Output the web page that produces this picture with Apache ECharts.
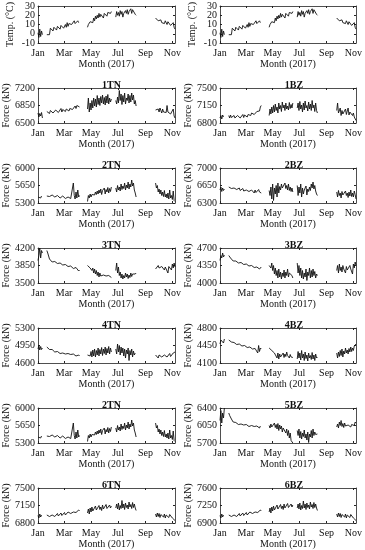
<!DOCTYPE html>
<html><head><meta charset="utf-8">
<script src="https://cdn.jsdelivr.net/npm/echarts@6/dist/echarts.min.js"></script>
<style>html,body{margin:0;padding:0;background:#fff}#c{width:365px;height:550px}</style>
</head><body><div id="c"></div><script>
const monthLabels = ['Jan','Mar','May','Jul','Sep','Nov'];
const monthDays = [0,59,120,181,243,304];
const segStarts = [0,20,112,176,266];
const xMax = 310;

const temp = [
 [1,-4,5,-3,3,-1],
 [-1,-2,0,-1,6,4,8,3,7,5, 9,4,8,6,10,5,9,7,11,6, 8,10,7,12,8,11,9,13,10,12, 8,14,11,12,10,14,12,13],
 [7,10,8,13,11,15,12,17,14,19, 16,20,17,22,18,21,19,23,17,22, 20,24,19,23,21,25,22,24],
 [18,24,20,23,19,25,21,24,18,22, 20,25,22,26,21,24,23,27,22,26, 24,28,21,20],
 [17,15,18,14,16,13,15,12,14,13, 11,14,12,10,13,11,12,9,11,10, 12,7,5]
];
const f1TN = [
 [6700,6620,6690,6640,6710,6600],
 [6730,6700,6760,6690,6750,6710,6770,6700,6740,6690, 6760,6720,6780,6710,6750,6730,6790,6720,6770,6740, 6800,6730,6780,6750,6810,6740,6790,6760,6820,6770, 6800,6780,6840,6790,6850,6810,6870,6820],
 [6780,7000,6720,6900,6760,6950,6800,7000,6840,6980, 6820,7050,6870,7000,6850,7030,6900,7060,6880,7010, 6860,7040,6900,7070,6880,7000,6920,6980],
 [6950,6880,7020,6900,7150,6950,7080,6870,7050,6920, 7100,6880,7000,6950,7080,6900,7050,6920,7100,6960, 7060,6880,6950,6840],
 [6760,6800,6740,6780,6720,6800,6750,6700,6780,6720, 6690,6760,6710,6850,6720,6700,6760,6680,6720,6700, 6780,6640,6600]
];
const f1BZ = [
 [6900,6950,6880,6960,6920,6940],
 [6950,6900,6960,6910,6940,6890,6950,6900,6930,6880, 6950,6910,6960,6900,6940,6920,6970,6910,6960,6930, 6980,6920,6970,6940,6990,6950,7000,6960,7010,6970, 7000,6990,7030,7000,7060,7040,7120,7150],
 [6950,7080,6980,7120,7000,7150,7020,7180,7050,7120, 7000,7200,7080,7150,7030,7220,7100,7160,7050,7200, 7080,7140,7060,7210,7090,7170,7100,7200],
 [7100,7200,7050,7230,7080,7160,7020,7200,7060,7240, 7100,7150,7040,7220,7080,7180,7050,7250,7100,7160, 7030,7200,7050,7000],
 [7050,7200,7000,6980,7100,6950,7050,6980,7020,6960, 7080,6970,7040,7100,6960,7020,6980,7060,6950,7000, 6920,6880,6850]
];
const f2TN = [
 [5420,5380,5460,5400,5440,5390],
 [5440,5420,5460,5430,5450,5420,5460,5430,5450,5420, 5440,5410,5450,5420,5440,5400,5430,5410,5440,5400, 5420,5390,5430,5400,5420,5380,5410,5390,5420,5380, 5700,5450,5380,5520,5400,5560,5420,5450],
 [5330,5450,5400,5480,5420,5470,5440,5500,5460,5520, 5470,5540,5480,5560,5500,5580,5470,5550,5510,5600, 5480,5570,5520,5610,5500,5590,5530,5620],
 [5600,5520,5650,5560,5620,5540,5680,5570,5640,5590, 5700,5560,5660,5600,5720,5580,5680,5620,5760,5640, 5700,5560,5500,5420],
 [5700,5600,5650,5520,5580,5480,5560,5450,5520,5430, 5550,5420,5480,5400,5500,5380,5560,5400,5450,5370, 5540,5350,5330]
];
const f2BZ = [
 [6560,6620,6530,6600,6550,6580],
 [6620,6580,6640,6590,6610,6570,6600,6580,6620,6570, 6590,6560,6600,6550,6580,6560,6590,6540,6570,6550, 6560,6520,6570,6530,6550,6510,6560,6520,6540,6500, 6560,6510,6550,6490,6570,6520,6540,6500],
 [6550,6450,6620,6380,6680,6350,6600,6480,6650,6420, 6700,6500,6630,6560,6680,6600,6640,6570,6700,6590, 6650,6560,6680,6550,6620,6530,6600,6520],
 [6650,6450,6620,6500,6680,6420,6600,6480,6560,6520, 6640,6460,6580,6530,6620,6550,6680,6600,6720,6580, 6650,6540,6480,6450],
 [6520,6420,6550,6450,6500,6400,6530,6460,6480,6420, 6540,6450,6500,6410,6520,6440,6560,6430,6500,6420, 6540,6470,6380]
];
const f3TN = [
 [3950,4050,4200,4000,4150,4100],
 [4150,4100,4080,3980,3950,3940,3920,3950,3910,3930, 3900,3920,3890,3910,3880,3900,3870,3890,3860,3880, 3850,3870,3840,3860,3830,3850,3820,3840,3800,3830, 3790,3820,3770,3810,3780,3800,3740,3760],
 [3850,3820,3860,3800,3840,3750,3800,3700,3780,3680, 3750,3650,3720,3620,3700,3640,3680,3600,3660,3620, 3700,3640,3680,3600,3650,3620,3640,3610],
 [3750,3900,3700,3820,3650,3720,3600,3680,3580,3650, 3600,3700,3620,3680,3590,3660,3610,3700,3630,3680, 3640,3720,3680,3700],
 [3780,3820,3760,3850,3800,3840,3770,3830,3790,3850, 3760,3820,3780,3860,3700,3830,3790,3840,3760,3880, 3800,3900,3820]
];
const f3BZ = [
 [4450,4550,4500,4600,4520,4560],
 [4550,4520,4500,4480,4460,4440,4450,4420,4440,4410, 4430,4400,4420,4390,4410,4380,4400,4370,4390,4360, 4380,4350,4370,4340,4360,4330,4350,4320,4340,4310, 4330,4300,4320,4290,4310,4280,4300,4320],
 [4350,4380,4300,4400,4250,4350,4180,4300,4150,4250, 4100,4280,4120,4220,4080,4200,4130,4260,4100,4220, 4150,4280,4120,4200,4160,4240,4150,4100],
 [4400,4200,4350,4150,4300,4100,4250,4080,4200,4120, 4280,4050,4220,4150,4300,4100,4250,4120,4280,4150, 4230,4100,4180,4150],
 [4250,4350,4200,4380,4250,4320,4220,4350,4280,4300, 4200,4330,4260,4300,4220,4350,4280,4320,4180,4380, 4300,4420,4350]
];
const f4TN = [
 [4880,4950,4860,4930,4870,4900],
 [4920,4880,4900,4870,4890,4850,4870,4840,4860,4820, 4840,4810,4830,4800,4820,4790,4810,4780,4800,4790, 4810,4780,4800,4770,4790,4760,4780,4770,4790,4750, 4780,4760,4790,4740,4770,4750,4760,4740],
 [4760,4720,4800,4740,4830,4720,4860,4740,4880,4720, 4850,4760,4900,4740,4870,4780,4910,4750,4880,4790, 4920,4760,4890,4800,4930,4780,4900,4820],
 [4880,4780,4980,4820,4950,4760,4920,4800,4900,4740, 4880,4700,4860,4780,4900,4650,4850,4760,4880,4720, 4840,4760,4800,4780],
 [4760,4720,4780,4700,4760,4730,4770,4720,4750,4710, 4760,4730,4780,4720,4760,4740,4790,4730,4770,4750, 4800,4780,4820]
];
const f4BZ = [
 [4480,4560,4520,4600,4500,4580],
 [4560,4540,4550,4520,4530,4500,4510,4480,4500,4470, 4490,4460,4480,4450,4470,4440,4460,4430,4450,4420, 4440,4410,4430,4400,4420,4390,4410,4380,4400,4370, 4390,4360,4420,4300,4450,4330,4400,4380],
 [4400,4370,4410,4350,4390,4360,4300,4280,4320,4200, 4300,4180,4280,4220,4260,4190,4300,4210,4280,4230, 4320,4250,4290,4200,4270,4220,4250,4210],
 [4180,4330,4200,4300,4160,4350,4200,4280,4150,4320, 4190,4260,4140,4300,4200,4250,4170,4310,4180,4260, 4150,4280,4200,4220],
 [4300,4200,4320,4230,4350,4250,4380,4220,4340,4280, 4400,4300,4360,4280,4390,4320,4420,4330,4400,4350, 4440,4420,4480]
];
const f5BZ = [
 [6150,6350,6100,6300,6200,6400],
 [6300,6250,6220,6180,6150,6120,6130,6100,6110,6080, 6100,6070,6090,6060,6080,6050,6070,6060,6080,6040, 6070,6050,6060,6030,6070,6040,6050,6020,6060,6030, 6050,6010,6040,6020,6030,6000,6040,6010],
 [6050,6000,6080,6020,6060,5990,6100,6010,6070,5980, 6090,5950,6060,5980,6040,5920,6000,5960,6030,5900, 5980,5850,5950,5800,5900,5750,5780,5700],
 [5950,5850,5980,5800,5930,5780,5900,5830,5960,5800, 5880,5760,5920,5710,5880,5820,5950,5800,5980,5850, 5920,5870,5900,5880],
 [6020,6080,6000,6120,6050,6150,6030,6090,6010,6100, 6040,6080,6000,6060,6030,6090,6020,6070,6040,6080, 6050,6120,6100]
];
const f6TN = [
 [6950,6900,6980,6920,6960,6940],
 [6960,6920,6980,6930,6970,6910,6960,6940,6990,6930, 6970,6950,6990,6940,6980,6960,7000,6950,6990,6970, 7010,6960,7000,6970,7020,6980,7010,6990,7030,6990, 7020,7000,7040,7010,7050,7020,7060,7040],
 [7000,7080,6980,7100,7020,7120,7040,7080,7030,7140, 7060,7100,7040,7150,7070,7120,7050,7160,7080,7110, 7060,7170,7090,7130,7070,7160,7100,7140],
 [7100,7180,7080,7200,7060,7150,7090,7250,7100,7180, 7070,7200,7110,7160,7080,7220,7120,7170,7090,7210, 7110,7180,7100,7050],
 [6980,6920,7000,6930,6990,6910,6970,6940,7010,6920, 6980,6900,6960,6930,6990,6910,6970,6940,6950,6900, 6930,6880,6850]
];
const f6BZ = [
 [7050,7000,7080,7020,7060,7040],
 [7060,7020,7080,7030,7070,7010,7060,7040,7090,7030, 7070,7050,7090,7040,7080,7060,7100,7050,7090,7070, 7110,7060,7100,7070,7120,7080,7110,7090,7130,7090, 7120,7100,7140,7110,7150,7120,7160,7140],
 [7120,7200,7100,7220,7140,7240,7160,7200,7150,7260, 7180,7220,7160,7270,7190,7240,7170,7280,7200,7230, 7180,7290,7210,7250,7190,7280,7220,7260],
 [7200,7280,7180,7300,7160,7250,7190,7340,7200,7280, 7170,7300,7210,7260,7180,7320,7220,7270,7190,7310, 7210,7280,7200,7150],
 [7080,7020,7100,7030,7090,7010,7070,7040,7110,7020, 7080,7000,7060,7030,7090,7010,7070,7040,7050,7000, 7030,6980,6950]
];

const tempTicks = [-10,0,10,20,30];
const ticks1TN = [6500,6850,7200];
const ticks1BZ = [6800,7150,7500];
const ticks2TN = [5300,5650,6000];
const ticks2BZ = [6300,6650,7000];
const ticks3TN = [3500,3850,4200];
const ticks3BZ = [4000,4350,4700];
const ticks4TN = [4600,4950,5300];
const ticks4BZ = [4100,4450,4800];
const ticks5BZ = [5700,6050,6400];
const ticks6TN = [6800,7150,7500];
const ticks6BZ = [6900,7250,7600];

const panels = [
  ['', 'Temp. (°C)', temp, tempTicks], ['', 'Temp. (°C)', temp, tempTicks],
  ['1TN', 'Force (kN)', f1TN, ticks1TN], ['1BZ', 'Force (kN)', f1BZ, ticks1BZ],
  ['2TN', 'Force (kN)', f2TN, ticks2TN], ['2BZ', 'Force (kN)', f2BZ, ticks2BZ],
  ['3TN', 'Force (kN)', f3TN, ticks3TN], ['3BZ', 'Force (kN)', f3BZ, ticks3BZ],
  ['4TN', 'Force (kN)', f4TN, ticks4TN], ['4BZ', 'Force (kN)', f4BZ, ticks4BZ],
  ['2TN', 'Force (kN)', f2TN, ticks2TN], ['5BZ', 'Force (kN)', f5BZ, ticks5BZ],
  ['6TN', 'Force (kN)', f6TN, ticks6TN], ['6BZ', 'Force (kN)', f6BZ, ticks6BZ]
];

const FONT = 'Liberation Serif';
const colLeft = [38, 220], colWidth = [137, 138];
function rowTop(r){ return r === 0 ? 6 : 88 + 80*(r-1); }
function rowHeight(r){ return r === 0 ? 37 : 35; }

function buildData(segs){
  const out = [];
  segs.forEach((seg, si) => {
    seg.forEach((v, i) => out.push([segStarts[si] + 2*i, v]));
    if (si < segs.length - 1) out.push([segStarts[si] + 2*seg.length, '-']);
  });
  return out;
}

const grid = [], xAxis = [], yAxis = [], series = [], title = [], extraY = [];
const axisLineStyle = {show: true, onZero: false, lineStyle: {color: '#222', width: 0.8}};
panels.forEach((p, i) => {
  const r = Math.floor(i/2), c = i % 2;
  const top = rowTop(r), h = rowHeight(r);
  grid.push({left: colLeft[c], top: top, width: colWidth[c], height: h, show: false});
  const tk = p[3];
  const lo = tk[0], hi = tk[tk.length-1];
  // split label values into alternating sets so dense labels are never auto-hidden
  const labA = tk.filter((v, k) => k % 2 === 0), labB = tk.filter((v, k) => k % 2 === 1);
  xAxis.push({
    type: 'value', gridIndex: i, min: 0, max: xMax,
    name: 'Month (2017)', nameLocation: 'middle', nameGap: 15,
    nameTextStyle: {fontFamily: FONT, fontSize: 10, color: '#111'},
    axisLine: axisLineStyle,
    axisTick: {show: true, inside: true, length: 2, customValues: monthDays, lineStyle: {color: '#222'}},
    axisLabel: {customValues: monthDays, margin: 5, fontFamily: FONT, fontSize: 10, color: '#111',
      formatter: v => monthLabels[monthDays.indexOf(v)] || ''},
    splitLine: {show: false}
  });
  xAxis.push({
    type: 'value', gridIndex: i, min: 0, max: xMax, position: 'top',
    axisLine: axisLineStyle,
    axisTick: {show: true, inside: true, length: 2, customValues: monthDays, lineStyle: {color: '#222'}},
    axisLabel: {show: false}, splitLine: {show: false}
  });
  const yLabel = {margin: 3, fontFamily: FONT, fontSize: 10, color: '#111', formatter: v => String(v)};
  yAxis.push({
    type: 'value', gridIndex: i, min: lo, max: hi,
    name: p[1], nameLocation: 'middle', nameGap: 23,
    nameTextStyle: {fontFamily: FONT, fontSize: 10, color: '#111'},
    axisLine: axisLineStyle,
    axisTick: {show: true, inside: true, length: 2, customValues: tk, lineStyle: {color: '#222'}},
    axisLabel: Object.assign({customValues: labA}, yLabel), splitLine: {show: false}
  });
  yAxis.push({
    type: 'value', gridIndex: i, min: lo, max: hi, position: 'right',
    axisLine: axisLineStyle,
    axisTick: {show: true, inside: true, length: 2, customValues: tk, lineStyle: {color: '#222'}},
    axisLabel: {show: false}, splitLine: {show: false}
  });
  extraY.push({
    type: 'value', gridIndex: i, min: lo, max: hi, position: 'left',
    axisLine: {show: false}, axisTick: {show: false},
    axisLabel: Object.assign({customValues: labB}, yLabel), splitLine: {show: false}
  });
  series.push({
    type: 'line', xAxisIndex: 2*i, yAxisIndex: 2*i, data: buildData(p[2]),
    showSymbol: false, symbol: 'none', lineStyle: {color: '#111', width: 0.9},
    connectNulls: false, animation: false
  });
  if (p[0]) title.push({
    text: p[0], left: colLeft[c] + colWidth[c]/2, top: top - 13, textAlign: 'center',
    textStyle: {fontFamily: FONT, fontSize: 10, fontWeight: 'bold', color: '#111'}
  });
});

const chart = echarts.init(document.getElementById('c'), null, {renderer: 'canvas'});
chart.setOption({animation: false, backgroundColor: '#fff', title, grid, xAxis, yAxis: yAxis.concat(extraY), series});
</script></body></html>
